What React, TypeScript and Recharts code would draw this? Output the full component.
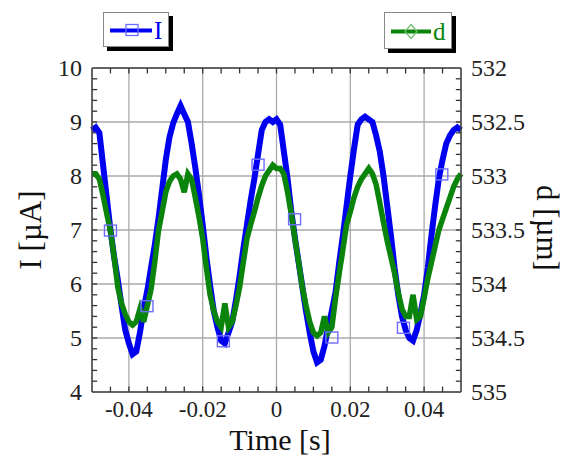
import { LineChart, Line, XAxis, YAxis, CartesianGrid, ReferenceLine } from 'recharts';

// time in seconds, 1 ms steps
const time = [
  -0.05, -0.049, -0.048, -0.047, -0.046, -0.045, -0.044, -0.043, -0.042, -0.041,
  -0.04, -0.039, -0.038, -0.037, -0.036, -0.035, -0.034, -0.033, -0.032, -0.031,
  -0.03, -0.029, -0.028, -0.027, -0.026, -0.025, -0.024, -0.023, -0.022, -0.021,
  -0.02, -0.019, -0.018, -0.017, -0.016, -0.015, -0.014, -0.013, -0.012, -0.011,
  -0.01, -0.009, -0.008, -0.007, -0.006, -0.005, -0.004, -0.003, -0.002, -0.001,
  0, 0.001, 0.002, 0.003, 0.004, 0.005, 0.006, 0.007, 0.008, 0.009,
  0.01, 0.011, 0.012, 0.013, 0.014, 0.015, 0.016, 0.017, 0.018, 0.019,
  0.02, 0.021, 0.022, 0.023, 0.024, 0.025, 0.026, 0.027, 0.028, 0.029,
  0.03, 0.031, 0.032, 0.033, 0.034, 0.035, 0.036, 0.037, 0.038, 0.039,
  0.04, 0.041, 0.042, 0.043, 0.044, 0.045, 0.046, 0.047, 0.048, 0.049, 0.05,
];

// I [µA]
const currentI = [
  8.85, 8.9, 8.8, 8.2, 7.6, 7.0, 6.5, 6.08, 5.6, 5.15,
  4.9, 4.7, 4.75, 5.1, 5.55, 5.88, 6.3, 6.72, 7.2, 7.75,
  8.3, 8.72, 8.98, 9.15, 9.3, 9.15, 9.0, 8.6, 8.15, 7.65,
  7.1, 6.5, 5.98, 5.5, 5.2, 4.95, 4.9, 5.1, 5.3, 5.7,
  6.15, 6.65, 7.1, 7.55, 7.95, 8.4, 8.85, 9.0, 9.05, 9.0,
  9.05, 8.95, 8.45, 7.95, 7.35, 6.85, 6.4, 5.95, 5.5, 5.1,
  4.75, 4.55, 4.6, 4.85, 5.2, 5.5, 5.85, 6.4, 6.9, 7.45,
  8.0, 8.5, 8.95, 9.05, 9.1, 9.05, 9.0, 8.75, 8.45, 8.0,
  7.45, 6.9, 6.3, 5.8, 5.4, 5.15, 5.0, 4.95, 5.15, 5.45,
  5.8, 6.3, 6.9, 7.45, 7.95, 8.3, 8.6, 8.75, 8.85, 8.9, 8.85,
];

// d [µm] (right axis, reversed)
const distanceD = [
  532.98, 532.98, 533.03, 533.18, 533.35, 533.51, 533.75, 534.03, 534.18, 534.28,
  534.35, 534.38, 534.35, 534.23, 534.35, 534.2, 534.05, 533.8, 533.51, 533.33,
  533.15, 533.05, 533.0, 532.98, 533.03, 533.15, 532.98, 533.03, 533.2, 533.38,
  533.58, 533.85, 534.1, 534.25, 534.35, 534.4, 534.18, 534.4, 534.35, 534.2,
  534.03, 533.8, 533.58, 533.45, 533.33, 533.2, 533.09, 533.0, 532.95, 532.9,
  532.93, 532.93, 532.98, 533.15, 533.35, 533.58, 533.8, 534.03, 534.2, 534.35,
  534.45, 534.48, 534.45, 534.3, 534.45, 534.4, 534.13, 533.9, 533.68, 533.45,
  533.33, 533.2, 533.1, 533.03, 532.98, 532.93, 532.98, 533.08, 533.25, 533.43,
  533.6, 533.75, 533.9, 534.08, 534.23, 534.3, 534.3, 534.1, 534.33, 534.3,
  534.13, 533.95, 533.8, 533.65, 533.5, 533.4, 533.3, 533.2, 533.1, 533.03, 532.98,
];

// sparse square markers of the I trace
const markerTime = [-0.045, -0.0351, -0.0144, -0.005, 0.0049, 0.015, 0.0344, 0.0448];
const markerI = [6.98, 5.58, 4.93, 8.2, 7.19, 5.0, 5.18, 8.02];

const xTicks = [-0.04, -0.02, 0, 0.02, 0.04];
const iTicks = [4, 5, 6, 7, 8, 9, 10];
const dTicks = [532, 532.5, 533, 533.5, 534, 534.5, 535];

const minor = (from: number, to: number, step: number) => {
  const out: number[] = [];
  for (let v = from; v <= to + step / 2; v += step) out.push(Math.round(v * 10000) / 10000);
  return out;
};
// inner minor tick positions (x every 5 ms, y every 0.2 µA = 0.1 µm)
const xMinor = minor(-0.045, 0.045, 0.005);
const yMinor = minor(4.2, 9.8, 0.2);

const data = time.map((t, i) => ({ t, I: currentI[i], d: distanceD[i] }));
const markers = markerTime.map((t, i) => ({ t, I: markerI[i] }));

const FONT = '"Liberation Serif", "Times New Roman", serif';
const BLUE = '#0000f0';
const GREEN = '#0a840a';
const AXIS = '#444';

const XTick = (p: any) => (
  <text x={p.x} y={p.y} dy={15} textAnchor="middle" fontFamily={FONT} fontSize={23} fill="#222">
    {p.payload.value}
  </text>
);
const LTick = (p: any) => (
  <text x={p.x} y={p.y} dy={8} textAnchor="end" fontFamily={FONT} fontSize={24} fill="#222">
    {p.payload.value}
  </text>
);
const RTick = (p: any) => (
  <text x={p.x} y={p.y} dy={8} textAnchor="start" fontFamily={FONT} fontSize={24} fill="#222">
    {p.payload.value}
  </text>
);

const squareDot = (p: any) => (
  <rect key={p.index} x={p.cx - 6} y={p.cy - 6} width={12} height={11}
    fill="none" stroke="#6d6dff" strokeWidth={1.4} />
);

const XTitle = () => (
  <text x={280} y={449.5} textAnchor="middle" fontFamily={FONT} fontSize={30} fill="#111">Time [s]</text>
);
const ITitle = () => (
  <text x={30} y={230} transform="rotate(-90 30 230)" textAnchor="middle" dominantBaseline="central"
    fontFamily={FONT} fontSize={31} fill="#111">I [µA]</text>
);
const DTitle = () => (
  <text x={547} y={228} transform="rotate(90 547 228)" textAnchor="middle" dominantBaseline="central"
    fontFamily={FONT} fontSize={31} fill="#111">d [µm]</text>
);

function LegendBox({ left, width, height, color, label, diamond }: any) {
  const cy = height / 2 + 1;
  const mx = diamond ? 27 : 29;
  return (
    <div style={{ position: 'absolute', left, top: 12, width, height, background: '#fff',
      border: '1px solid #888', boxShadow: '4px 4px 0 #000', boxSizing: 'border-box' }}>
      <svg width={width} height={height} style={{ position: 'absolute', left: -1, top: -1 }}>
        <line x1={7} x2={diamond ? 47 : 49} y1={cy} y2={cy} stroke={color} strokeWidth={4} />
        {diamond ? (
          <polygon points={`${mx},${cy - 7} ${mx + 6},${cy} ${mx},${cy + 7} ${mx - 6},${cy}`}
            fill="none" stroke="#6fbf6f" strokeWidth={1.3} />
        ) : (
          <rect x={mx - 6} y={cy - 6} width={12} height={11} fill="none" stroke="#6d6dff" strokeWidth={1.3} />
        )}
        <text x={diamond ? 49 : 51} y={cy + 8} fontFamily={FONT} fontSize={25} fill={color}>{label}</text>
      </svg>
    </div>
  );
}

const tickSeg = { stroke: '#333', strokeWidth: 1.3 };

export default function App() {
  return (
    <div style={{ position: 'absolute', left: 0, top: 0, width: 569, height: 456, background: '#fff',
      fontFamily: FONT }}>
      <LineChart width={569} height={456} data={data} margin={{ top: 68, right: 0, bottom: 0, left: 0 }}>
        <CartesianGrid xAxisId="main" yAxisId="I" stroke="#aaa" strokeWidth={1.3} />
        <XAxis xAxisId="main" dataKey="t" type="number" domain={[-0.05, 0.05]} ticks={xTicks}
          interval={0} height={64} tickSize={0} tickMargin={10} tickLine={false}
          axisLine={{ stroke: AXIS, strokeWidth: 1.5 }} tick={XTick} label={<XTitle />} />
        <YAxis yAxisId="I" type="number" domain={[4, 10]} ticks={iTicks} interval={0} width={92}
          tickSize={0} tickMargin={10} tickLine={false} axisLine={{ stroke: AXIS, strokeWidth: 1.5 }}
          tick={LTick} label={<ITitle />} />
        <YAxis yAxisId="d" orientation="right" type="number" domain={[532, 535]} reversed
          ticks={dTicks} interval={0} width={108} tickSize={0} tickMargin={10} tickLine={false}
          axisLine={{ stroke: AXIS, strokeWidth: 1.5 }} tick={RTick} label={<DTitle />} />
        <ReferenceLine xAxisId="main" yAxisId="I" y={10} stroke={AXIS} strokeWidth={1.5} />
        {xMinor.map((t) => (
          <ReferenceLine key={`b${t}`} xAxisId="main" yAxisId="I" {...tickSeg}
            segment={[{ x: t, y: 4 }, { x: t, y: 4.1 }]} />
        ))}
        {xMinor.map((t) => (
          <ReferenceLine key={`t${t}`} xAxisId="main" yAxisId="I" {...tickSeg}
            segment={[{ x: t, y: 10 }, { x: t, y: 9.9 }]} />
        ))}
        {yMinor.map((v) => (
          <ReferenceLine key={`l${v}`} xAxisId="main" yAxisId="I" {...tickSeg}
            segment={[{ x: -0.05, y: v }, { x: -0.0486, y: v }]} />
        ))}
        {yMinor.map((v) => (
          <ReferenceLine key={`r${v}`} xAxisId="main" yAxisId="I" {...tickSeg}
            segment={[{ x: 0.05, y: v }, { x: 0.0486, y: v }]} />
        ))}
        <Line xAxisId="main" yAxisId="I" dataKey="I" stroke={BLUE} strokeWidth={6}
          dot={false} activeDot={false} isAnimationActive={false} />
        <Line xAxisId="main" yAxisId="d" dataKey="d" stroke={GREEN} strokeWidth={5.5}
          dot={false} activeDot={false} isAnimationActive={false} />
        <Line xAxisId="main" yAxisId="I" data={markers} dataKey="I" stroke="none"
          dot={squareDot} activeDot={false} isAnimationActive={false} />
      </LineChart>
      <LegendBox left={103} width={66} height={35} color={BLUE} label="I" />
      <LegendBox left={384} width={68} height={37} color={GREEN} label="d" diamond />
    </div>
  );
}
